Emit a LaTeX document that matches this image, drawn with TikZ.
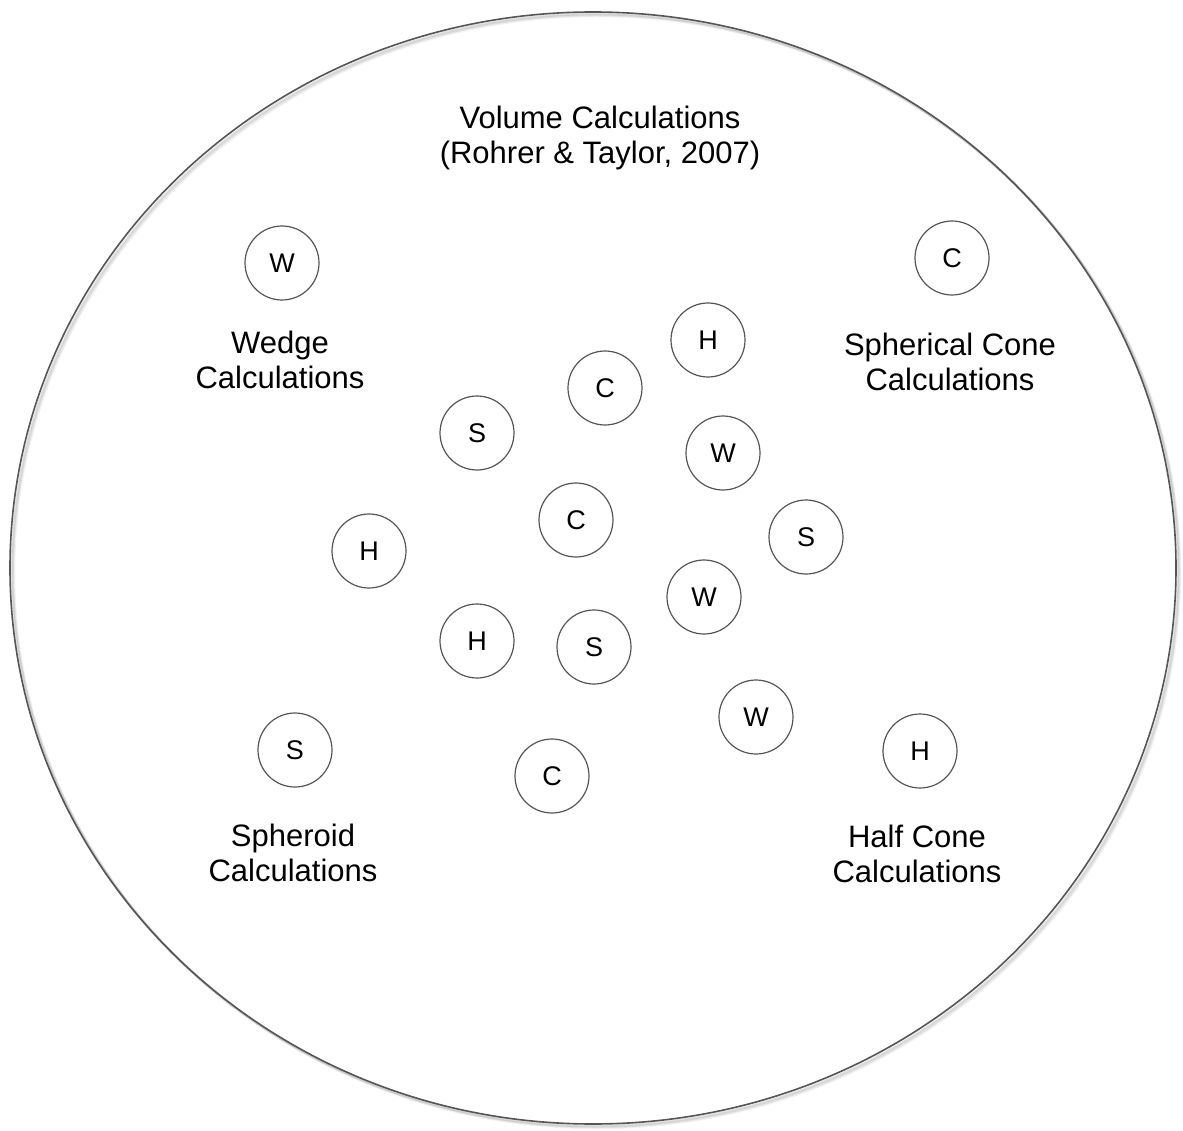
\documentclass[tikz,border=0pt]{standalone}
\usepackage{fontspec}
\setmainfont{Liberation Sans}
\usetikzlibrary{shapes.geometric}
\definecolor{edge}{HTML}{555555}
\tikzset{
  outerbox/.style={draw=edge, line width=1.6pt, ellipse, inner sep=0pt,
    minimum width=1166pt, minimum height=1112pt},
  ball/.style={draw=edge, line width=1.2pt, circle, inner sep=0pt,
    minimum size=74pt, font=\fontsize{27}{31}\selectfont},
  lbl/.style={align=center, inner sep=0pt, font=\fontsize{31}{35}\selectfont},
}
\begin{document}
\begin{tikzpicture}[x=1pt,y=-1pt]
\useasboundingbox (0,0) rectangle (1183,1131);
% soft shadow of the big ellipse
\foreach \o/\a in {4/0.10,3/0.15,2/0.22}{
  \draw[gray, line width=2.5pt, opacity=\a] (593+\o,568+\o) ellipse [x radius=583, y radius=556];
}
\node[outerbox, fill=none] (outer) at (593,568) {};

\node[lbl] (title) at (600,138) {Volume Calculations\\(Rohrer \& Taylor, 2007)};
\node[lbl] (wedge) at (280,360) {Wedge\\Calculations};
\node[lbl] (scone) at (950,362) {Spherical Cone\\Calculations};
\node[lbl] (spheroid) at (293,853) {Spheroid\\Calculations};
\node[lbl] (hcone) at (917,854) {Half Cone\\Calculations};

\node[ball] (w1) at (282,263) {W};
\node[ball] (c1) at (952,258) {C};
\node[ball] (h1) at (708,340) {H};
\node[ball] (c2) at (605,388) {C};
\node[ball] (s1) at (477,433) {S};
\node[ball] (w2) at (723,453) {W};
\node[ball] (c3) at (576,520) {C};
\node[ball] (s2) at (806,537) {S};
\node[ball] (h2) at (369,551) {H};
\node[ball] (w3) at (704,597) {W};
\node[ball] (h3) at (477,641) {H};
\node[ball] (s3) at (594,647) {S};
\node[ball] (w4) at (756,717) {W};
\node[ball] (s4) at (295,750) {S};
\node[ball] (c4) at (552,776) {C};
\node[ball] (h4) at (920,751) {H};
\end{tikzpicture}
\end{document}
